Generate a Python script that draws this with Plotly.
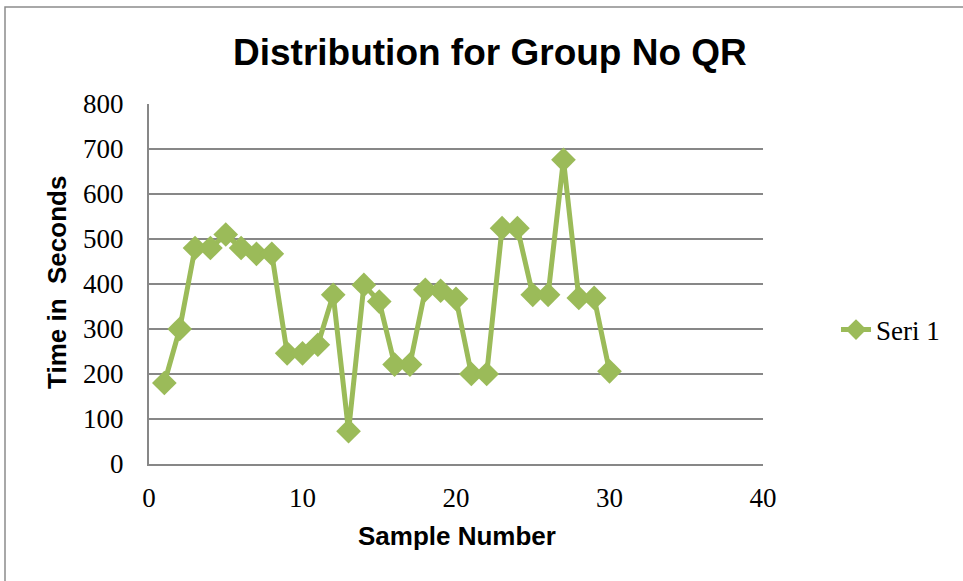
import plotly.graph_objects as go

samples = list(range(1, 31))
times = [180, 300, 480, 480, 510, 480, 467, 467, 246, 246,
         265, 376, 73, 398, 361, 221, 221, 387, 385, 367,
         200, 200, 524, 524, 376, 376, 676, 369, 369, 206]
series_name = "Seri 1"
x_ticks = [0, 10, 20, 30, 40]
y_ticks = [0, 100, 200, 300, 400, 500, 600, 700, 800]

GREEN = "#9BBB59"
GRID = "#878787"
W, H = 963, 581
L, R, T, B = 149, 200, 104, 117
pw, ph = W - L - R, H - T - B

def px2x(px):
    return (px - L) / pw

def py2y(py):
    return (H - B - py) / ph

tickfont = dict(family="Liberation Serif", size=27, color="black")

fig = go.Figure()
fig.add_trace(go.Scatter(
    x=samples, y=times, name=series_name, mode="lines+markers",
    line=dict(color=GREEN, width=5),
    marker=dict(symbol="diamond", size=19, color=GREEN),
))

fig.update_layout(
    width=W, height=H,
    margin=dict(l=L, r=R, t=T, b=B),
    paper_bgcolor="white", plot_bgcolor="white",
    showlegend=True,
    legend=dict(x=px2x(836), y=py2y(330), xanchor="left", yanchor="middle",
                font=dict(family="Liberation Serif", size=27, color="black"),
                bgcolor="rgba(0,0,0,0)"),
    xaxis=dict(range=[0, 40], tickvals=x_ticks, showgrid=False, zeroline=False,
               showline=True, linecolor=GRID, linewidth=2,
               ticks="", ticklabelstandoff=9, tickfont=tickfont),
    yaxis=dict(range=[0, 800], tickvals=y_ticks, showgrid=True, gridcolor=GRID, gridwidth=2,
               zeroline=False, showline=True, linecolor=GRID, linewidth=2,
               ticks="", ticklabelstandoff=18, tickfont=tickfont),
    annotations=[
        dict(text="<b>Distribution for Group No QR</b>", xref="paper", yref="paper",
             x=px2x(490), y=py2y(52), xanchor="center", yanchor="middle", showarrow=False,
             font=dict(family="Liberation Sans", size=37, color="black")),
        dict(text="<b>Sample Number</b>", xref="paper", yref="paper",
             x=px2x(457), y=py2y(536), xanchor="center", yanchor="middle", showarrow=False,
             font=dict(family="Liberation Sans", size=26, color="black")),
        dict(text="<b>Time in  Seconds</b>", xref="paper", yref="paper",
             x=px2x(57), y=py2y(283), xanchor="center", yanchor="middle", showarrow=False,
             textangle=-90,
             font=dict(family="Liberation Sans", size=26, color="black")),
    ],
    shapes=[
        dict(type="rect", xref="paper", yref="paper",
             x0=px2x(5), x1=px2x(975), y0=py2y(595), y1=py2y(7),
             line=dict(color="#8c8c8c", width=1.5), fillcolor="rgba(0,0,0,0)", layer="below"),
    ],
)

fig.write_html("out.html")
